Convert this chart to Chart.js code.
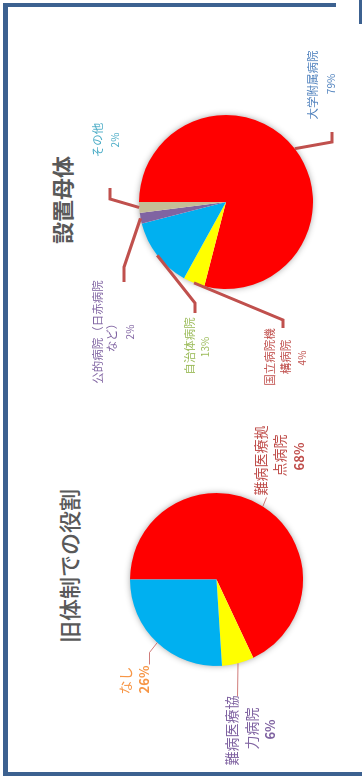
<!DOCTYPE html>
<html><head><meta charset="utf-8">
<script src="https://cdn.jsdelivr.net/npm/chart.js@4.4.0/dist/chart.umd.min.js"></script>
<style>
html,body{margin:0;padding:0;background:#fff;width:362px;height:779px;overflow:hidden;}
#land{position:absolute;left:0;top:0;width:779px;height:362px;transform-origin:0 0;transform:translate(0px,779px) rotate(-90deg);background:#fff;}
.b{position:absolute;background:#3C6190;}
.title{position:absolute;transform:translate(-50%,-50%);font-family:"Noto Sans CJK JP";color:#595959;white-space:nowrap;font-size:22px;line-height:1;}
canvas{position:absolute;left:0;top:0;}
</style></head><body>
<div id="land">
 <div class="b" style="left:3px;top:3px;width:773px;height:5px"></div>
 <div class="b" style="left:3px;top:3px;width:4px;height:362px"></div>
 <div class="b" style="left:772px;top:3px;width:4px;height:333px"></div>
 <div class="b" style="left:755px;top:359px;width:24px;height:3px"></div>
 <div class="title" id="t1" style="left:579px;top:61px;font-weight:700"></div>
 <div class="title" id="t2" style="left:213px;top:68px;font-weight:500"></div>
 <canvas id="c1" width="779" height="362"></canvas>
 <canvas id="c2" width="779" height="362"></canvas>
</div>
<script>
// ---- data ----
const orgTitle = '設置母体';
const orgCategories = ['大学附属病院', '国立病院機構病院', '自治体病院', '公的病院（日赤病院など）', 'その他'];
const orgValues = [79, 4, 13, 2, 2];
const roleTitle = '旧体制での役割';
const roleCategories = ['難病医療拠点病院', '難病医療協力病院', 'なし'];
const roleValues = [68, 6, 26];

document.getElementById('t1').textContent = orgTitle;
document.getElementById('t2').textContent = roleTitle;

// ---- styling / layout ----
const orgColors = ['#FF0000', '#FFFF00', '#00B0F0', '#8064A2', '#C4BD97'];
const roleColors = ['#FF0000', '#FFFF00', '#00B0F0'];

const orgLabelLayout = [
  {wrap: 0, color: '#4F81BD', pos: [[117, 87], [118, 105]], elbow: [60, 106], end: [70, 106]},
  {wrap: 5, color: '#C0504D', pos: [[-155, 44], [-155, 60], [-156, 76]], elbow: [-118, 57], end: [-126, 57]},
  {wrap: 0, color: '#9BBB59', pos: [[-144, -36], [-145, -21]], elbow: [-101, -31], end: [-111, -31]},
  {wrap: 9, color: '#8064A2', pos: [[-130, -128], [-133, -114], [-130, -96]], elbow: [-65, -102], end: [-80, -102]},
  {wrap: 0, color: '#4BACC6', pos: [[62, -128], [62, -111]], elbow: [3, -116], end: [14, -116]}
];
const roleLabelLayout = [
  {wrap: 5, color: '#C0504D', pos: [[119, 44], [124, 63], [123, 83]], elbow: null, end: [82, 50]},
  {wrap: 5, color: '#8064A2', pos: [[-151, 15], [-149, 35], [-150, 54]], elbow: null, end: [-117, 21]},
  {wrap: 0, color: '#F79646', pos: [[-101, -91], [-100, -72]], elbow: [-73, -67], end: [-85, -67]}
];

function splitWrap(s, n) {
  if (!n || s.length <= n) return [s];
  const out = [];
  for (let i = 0; i < s.length; i += n) out.push(s.slice(i, i + n));
  return out;
}

const shadowPlugin = {
  id: 'pieShadow',
  beforeDatasetsDraw(chart) {
    const arc = chart.getDatasetMeta(0).data[0];
    if (!arc) return;
    const ctx = chart.ctx;
    ctx.save();
    ctx.shadowColor = 'rgba(0,0,0,0.45)';
    ctx.shadowBlur = 7;
    ctx.fillStyle = '#ffffff';
    ctx.beginPath();
    ctx.arc(arc.x, arc.y, arc.outerRadius - 1, 0, Math.PI * 2);
    ctx.fill();
    ctx.restore();
  }
};

const labelPlugin = {
  id: 'pieLabels',
  afterDatasetsDraw(chart, args, opts) {
    const ctx = chart.ctx;
    const meta = chart.getDatasetMeta(0);
    const vals = chart.data.datasets[0].data;
    const total = vals.reduce((a, b) => a + b, 0);
    meta.data.forEach((el, i) => {
      const L = opts.layout[i];
      const {x, y, startAngle, endAngle, outerRadius} = el.getProps(['x', 'y', 'startAngle', 'endAngle', 'outerRadius'], true);
      const mid = (startAngle + endAngle) / 2;
      // leader line
      ctx.save();
      ctx.strokeStyle = opts.lineColor;
      ctx.lineWidth = opts.lineWidth;
      ctx.lineJoin = 'miter';
      ctx.beginPath();
      ctx.moveTo(x + Math.cos(mid) * outerRadius, y + Math.sin(mid) * outerRadius);
      if (L.elbow) ctx.lineTo(x + L.elbow[0], y + L.elbow[1]);
      ctx.lineTo(x + L.end[0], y + L.end[1]);
      ctx.stroke();
      ctx.restore();
      // text
      const lines = splitWrap(chart.data.labels[i], L.wrap);
      const pct = Math.round(vals[i] / total * 100) + '%';
      ctx.save();
      ctx.fillStyle = L.color;
      ctx.textAlign = 'center';
      ctx.textBaseline = 'middle';
      lines.forEach((t, k) => {
        ctx.font = opts.labelFont;
        ctx.fillText(t, x + L.pos[k][0], y + L.pos[k][1]);
      });
      ctx.font = opts.pctFont;
      const p = L.pos[lines.length];
      ctx.fillText(pct, x + p[0], y + p[1]);
      ctx.restore();
    });
  }
};

function makePie(id, labels, values, colors, padding, layout, lineColor, lineWidth, labelFont, pctFont) {
  return new Chart(document.getElementById(id), {
    type: 'pie',
    data: {labels: labels, datasets: [{data: values, backgroundColor: colors, borderWidth: 0}]},
    options: {
      responsive: false,
      animation: false,
      events: [],
      layout: {padding: padding},
      plugins: {
        legend: {display: false},
        tooltip: {enabled: false},
        pieLabels: {layout: layout, lineColor: lineColor, lineWidth: lineWidth, labelFont: labelFont, pctFont: pctFont}
      }
    },
    plugins: [shadowPlugin, labelPlugin]
  });
}

makePie('c1', orgCategories, orgValues, orgColors,
  {left: 490, right: 115, top: 139, bottom: 49},
  orgLabelLayout, '#C0504D', 3,
  '11.5px "Noto Sans CJK JP"', '10px "Noto Sans CJK JP"');

makePie('c2', roleCategories, roleValues, roleColors,
  {left: 113, right: 493, top: 130, bottom: 59},
  roleLabelLayout, 'rgba(192,80,77,0.75)', 1,
  '14px "Noto Sans CJK JP"', 'bold 13px "Noto Sans CJK JP"');
</script>
</body></html>
